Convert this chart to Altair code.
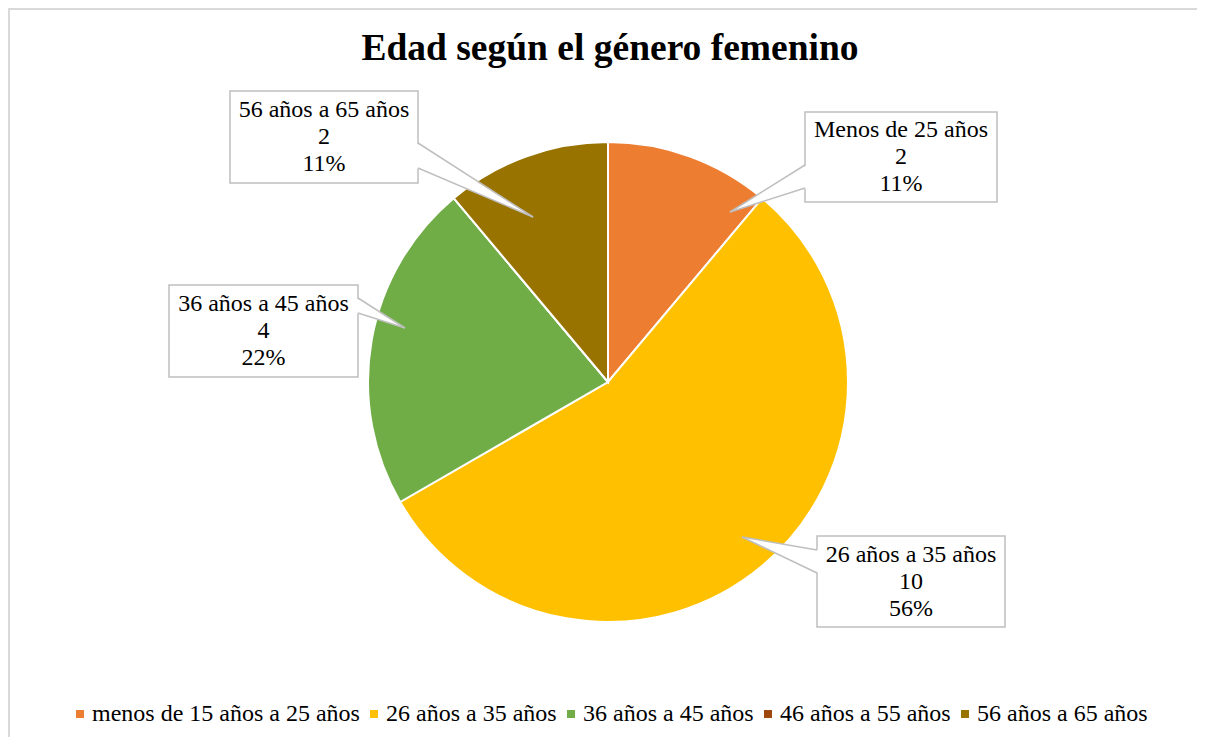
import altair as alt
import pandas as pd

# ---------------- data ----------------
legend_names = ["menos de 15 años a 25 años", "26 años a 35 años", "36 años a 45 años",
                "46 años a 55 años", "56 años a 65 años"]
callout_names = ["Menos de 25 años", "26 años a 35 años", "36 años a 45 años",
                 "", "56 años a 65 años"]
values = [2, 10, 4, 0, 2]
colors = ["#ED7D31", "#FFC000", "#70AD47", "#9E480E", "#997300"]
title_text = "Edad según el género femenino"

# ---------------- layout (page pixels) ----------------
W, H = 1189, 729
OX, OY = 8, 8
CX, CY, R = 608, 382, 240
LINE_H = 27
# index -> (box x1, y1, x2, y2, wedge edge x, edge y1, edge y2, tip x, tip y)
callout_layout = {
    0: (805, 112, 997, 202, 805, 165, 188, 730, 212),
    1: (817, 536, 1005, 627, 817, 550, 573, 742, 537),
    2: (169, 285, 358, 377, 358, 298, 313, 405, 328),
    4: (230, 91, 418, 183, 418, 143, 168, 533, 217),
}

total = sum(values)
slices = pd.DataFrame({
    "cat": legend_names,
    "value": values,
    "order": list(range(len(values))),
})

boxes, wedge_pts, edges, texts = [], [], [], []
for i, lay in callout_layout.items():
    x1, y1, x2, y2, ex, ey1, ey2, tx, ty = lay
    pct = round(values[i] / total * 100)
    boxes.append({"x": x1 - OX, "x2": x2 - OX, "y": y1 - OY, "y2": y2 - OY})
    # small inward shift so the wedge covers the box border where it attaches
    inward = 2 if ex == x1 else -2
    wedge_pts.append({"id": i, "x": ex - OX + inward, "y": ey1 - OY, "y2": ey2 - OY})
    wedge_pts.append({"id": i, "x": tx - OX, "y": ty - OY, "y2": ty - OY})
    edges.append({"x": ex - OX, "y": ey1 - OY, "x2": tx - OX, "y2": ty - OY})
    edges.append({"x": ex - OX, "y": ey2 - OY, "x2": tx - OX, "y2": ty - OY})
    # y of the first line: block of 3 lines centred in the box
    texts.append({"x": (x1 + x2) / 2 - OX, "y": (y1 + y2) / 2 - OY - LINE_H,
                  "t": f"{callout_names[i]}\n{values[i]}\n{pct}%"})

xs = alt.Scale(domain=[0, W], range=[0, W])
ys = alt.Scale(domain=[0, H], range=[0, H])
SERIF = "Liberation Serif"

border = alt.Chart(pd.DataFrame({"x": [0, 1], "x2": [W, 1], "y": [1, 0], "y2": [1, H]})).mark_rule(
    color="#d9d9d9", strokeWidth=2).encode(
    x=alt.X("x:Q", scale=xs, axis=None), x2="x2:Q",
    y=alt.Y("y:Q", scale=ys, axis=None), y2="y2:Q")

arc = alt.Chart(slices).mark_arc(radius=R, stroke="white", strokeWidth=2).encode(
    theta=alt.Theta("value:Q", stack=True),
    color=alt.Color("cat:N", scale=alt.Scale(domain=legend_names, range=colors),
                    legend=alt.Legend(title=None, orient="none", legendX=60, legendY=694,
                                      direction="horizontal", symbolType="square",
                                      symbolSize=64, symbolStrokeWidth=0,
                                      labelFont=SERIF, labelFontSize=24, labelColor="#000000",
                                      labelLimit=500, labelOffset=0, columnPadding=2)),
    order=alt.Order("order:Q"),
    x=alt.value(CX - OX), y=alt.value(CY - OY),
)

box = alt.Chart(pd.DataFrame(boxes)).mark_rect(fill="white", stroke="#bfbfbf", strokeWidth=1.5).encode(
    x=alt.X("x:Q", scale=xs, axis=None), x2="x2:Q",
    y=alt.Y("y:Q", scale=ys, axis=None), y2="y2:Q")

wedge = alt.Chart(pd.DataFrame(wedge_pts)).mark_area(color="white", opacity=1).encode(
    x=alt.X("x:Q", scale=xs, axis=None),
    y=alt.Y("y:Q", scale=ys, axis=None), y2="y2:Q",
    detail="id:N")

edge = alt.Chart(pd.DataFrame(edges)).mark_rule(color="#bfbfbf", strokeWidth=1.5).encode(
    x=alt.X("x:Q", scale=xs, axis=None), x2="x2:Q",
    y=alt.Y("y:Q", scale=ys, axis=None), y2="y2:Q")

label = alt.Chart(pd.DataFrame(texts)).mark_text(
    font=SERIF, fontSize=24, lineBreak="\n", lineHeight=LINE_H, align="center",
    baseline="middle", color="#000000").encode(
    x=alt.X("x:Q", scale=xs, axis=None),
    y=alt.Y("y:Q", scale=ys, axis=None), text="t:N")

title = alt.Chart(pd.DataFrame({"x": [610 - OX], "y": [60 - OY], "t": [title_text]})).mark_text(
    font=SERIF, fontSize=37.5, fontWeight="bold", align="center", baseline="alphabetic",
    color="#000000").encode(
    x=alt.X("x:Q", scale=xs, axis=None),
    y=alt.Y("y:Q", scale=ys, axis=None), text="t:N")

chart = alt.layer(border, arc, box, wedge, edge, label, title).properties(
    width=W, height=H, autosize=alt.AutoSizeParams(type="none"), padding=0,
    background="white"
).configure_view(stroke=None)

chart.save("out.html", embed_options={"renderer": "svg", "actions": False})
